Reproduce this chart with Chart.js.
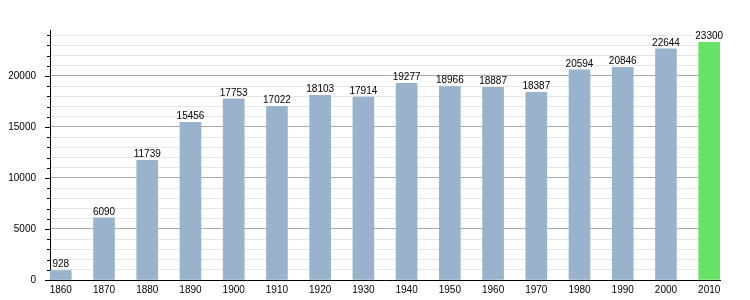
<!DOCTYPE html>
<html>
<head>
<meta charset="utf-8">
<script src="https://cdn.jsdelivr.net/npm/chart.js@4"></script>
<style>
  html, body { margin: 0; padding: 0; background: #fff; }
  #wrap { width: 750px; height: 300px; }
</style>
</head>
<body>
<div id="wrap"><canvas id="chart" width="750" height="300"></canvas></div>
<script>
const years = [1860, 1870, 1880, 1890, 1900, 1910, 1920, 1930, 1940, 1950, 1960, 1970, 1980, 1990, 2000, 2010];
const population = [928, 6090, 11739, 15456, 17753, 17022, 18103, 17914, 19277, 18966, 18887, 18387, 20594, 20846, 22644, 23300];
const yTicks = [0, 5000, 10000, 15000, 20000];

const barColors = years.map((y, i) => i === years.length - 1 ? '#66e366' : '#99b3cc');
const font = { family: '"Liberation Sans", Arial, sans-serif', size: 10 };

// value labels above bars and the axis tick marks
const extras = {
    id: 'extras',
    afterDatasetsDraw(chart) {
        const ctx = chart.ctx;
        const meta = chart.getDatasetMeta(0);
        ctx.save();
        ctx.font = '10px "Liberation Sans", Arial, sans-serif';
        ctx.fillStyle = '#000';
        ctx.textAlign = 'center';
        ctx.textBaseline = 'bottom';
        meta.data.forEach((bar, i) => {
            ctx.fillText(String(population[i]), bar.x, bar.y - 1);
        });
        const ys = chart.scales.y;
        ctx.strokeStyle = '#000';
        ctx.lineWidth = 1;
        ys.ticks.forEach(t => {
            const py = Math.round(ys.getPixelForValue(t.value)) + 0.5;
            const len = t.value % 5000 === 0 ? 5 : 3;
            ctx.beginPath();
            ctx.moveTo(ys.right - len, py);
            ctx.lineTo(ys.right, py);
            ctx.stroke();
        });
        ctx.restore();
    }
};

new Chart(document.getElementById('chart'), {
    type: 'bar',
    data: {
        datasets: [{
            data: years.map((y, i) => ({ x: y, y: population[i] })),
            backgroundColor: barColors,
            barThickness: 21,
            borderWidth: 0
        }]
    },
    options: {
        responsive: false,
        animation: false,
        layout: { padding: { top: 30, right: 30, left: 0, bottom: -2 } },
        plugins: { legend: { display: false }, tooltip: { enabled: false } },
        scales: {
            x: {
                type: 'linear',
                offset: false,
                min: 1857.5,
                max: 2012.5,
                afterBuildTicks: scale => { scale.ticks = years.map(v => ({ value: v })); },
                grid: { display: false, drawTicks: false },
                border: { display: true, color: '#000', width: 1 },
                ticks: {
                    font: font,
                    color: '#000',
                    padding: 4,
                    maxRotation: 0,
                    autoSkip: false,
                    callback: v => String(v)
                }
            },
            y: {
                min: 0,
                max: 24500,
                afterBuildTicks: scale => {
                    const t = [];
                    for (let v = 0; v <= 24000; v += 1000) t.push({ value: v });
                    scale.ticks = t;
                },
                afterFit: scale => { scale.width = 50; },
                grid: {
                    drawTicks: false,
                    color: ctx => ctx.tick && ctx.tick.value % 5000 === 0 ? '#aaaaaa' : '#e6e6e6'
                },
                border: { display: true, color: '#000', width: 1 },
                ticks: {
                    font: font,
                    color: '#000',
                    padding: 14,
                    autoSkip: false,
                    callback: v => yTicks.includes(v) ? String(v) : ''
                }
            }
        }
    },
    plugins: [extras]
});
</script>
</body>
</html>
